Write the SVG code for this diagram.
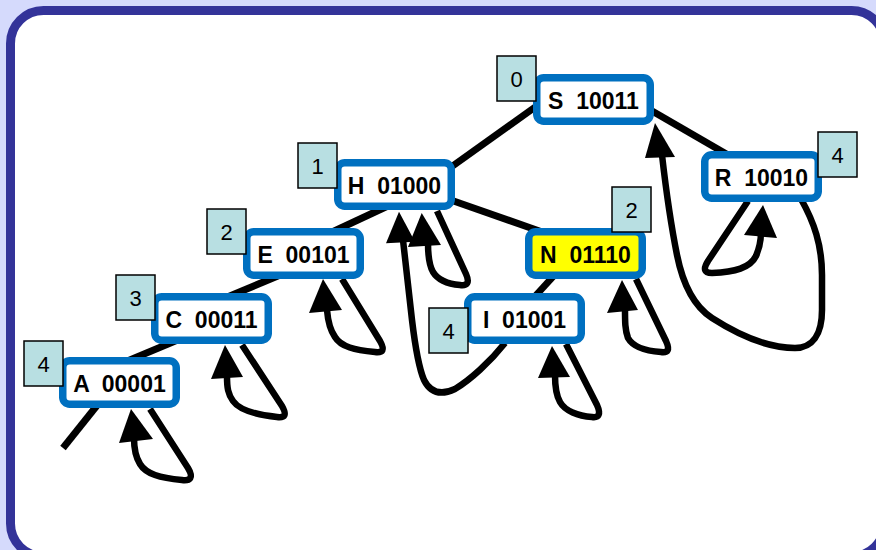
<svg xmlns="http://www.w3.org/2000/svg" width="876" height="550" viewBox="0 0 876 550">
<style>
.box{fill:#fff;stroke:#0070c0;stroke-width:7.5}
.hl{fill:#ffff00}
.lbl{font-family:"Liberation Sans",Arial,sans-serif;font-weight:bold;font-size:23px;fill:#000;text-anchor:middle;white-space:pre}
.num{fill:#b8dfe2;stroke:#000;stroke-width:1.5}
.numt{font-family:"Liberation Sans",Arial,sans-serif;font-size:22px;fill:#000;text-anchor:middle}
.edge{stroke:#000;stroke-width:7;fill:none}
.loop{stroke:#000;stroke-width:6.5;fill:none;stroke-linejoin:round}
.ah{fill:#000}
</style>
<rect width="876" height="550" fill="#d5dafc"/>
<rect x="10.5" y="10.5" width="874" height="546" rx="33" fill="#fff" stroke="#333399" stroke-width="9"/>
<g id="connectors">
<line class="edge" x1="545" y1="100" x2="440" y2="175"/>
<line class="edge" x1="640" y1="104" x2="735" y2="159"/>
<line class="edge" x1="390" y1="205" x2="330" y2="233"/>
<line class="edge" x1="445" y1="198" x2="545" y2="233"/>
<line class="edge" x1="285" y1="273" x2="225" y2="298"/>
<line class="edge" x1="180" y1="339" x2="125" y2="362"/>
<line class="edge" x1="103" y1="398" x2="63" y2="448"/>
<line class="edge" x1="560" y1="269" x2="528" y2="304"/>
<path class="loop" d="M150,409 L188,468 C194,478 190,481 182,480 C160,478 146,474 140,464 C135,456 134,448 134,438"/>
<polygon class="ah" points="131,409 119,443 153,439"/>
<path class="loop" d="M242,345 L282,406 C287,415 285,418 277,417 C258,415 240,411 233,401 C228,394 227,388 227,376"/>
<polygon class="ah" points="225,345 211,379 243,377"/>
<path class="loop" d="M342,279 L380,341 C385,350 383,353 375,352 C355,350 341,347 335,337 C330,330 328,322 327,310"/>
<polygon class="ah" points="323,279 309,313 342,310"/>
<path class="loop" d="M437,211 L466,274 C470,283 467,286 460,285 C448,284 438,280 433,272 C429,265 428,257 428,243"/>
<polygon class="ah" points="421.7,213 408,247 441,245"/>
<path class="loop" d="M566,344 L597,405 C601,414 599,418 592,417 C578,416 565,411 560,402 C556,395 555,388 555,375"/>
<polygon class="ah" points="552,346 538,378 570,377"/>
<path class="loop" d="M636,279 L666,341 C670,350 668,353 661,352 C647,351 633,347 628,338 C625,330 625,322 625,308"/>
<polygon class="ah" points="622,280 607,313 638,310"/>
<path class="loop" d="M748,201 L708,261 C703,269 704,273 712,273 C735,272 750,268 756,256 C759,249 761,243 761,232"/>
<polygon class="ah" points="763,205 744,235 777,238"/>
<path class="loop" d="M801,199 C814,222 822,245 822,275 L822,310 C822,335 812,348 795,348 C768,348 740,336 712,318 C692,305 682,280 677,255 C671,225 666,190 662,155"/>
<polygon class="ah" points="655,123 645,158 675,157"/>
<path class="loop" d="M505,343 C490,362 470,380 455,389 C440,396 430,392 424,380 C418,366 415,345 412,320 L403,240"/>
<polygon class="ah" points="399,211.7 386,243.3 415,241.7"/>
</g>
<g id="node-S">
<rect class="box" x="536.75" y="77.75" width="113.5" height="43.5" rx="7"/>
<text class="lbl" x="593.5" y="109">S  10011</text>
<rect class="num" x="497" y="56" width="39" height="45"/>
<text class="numt" x="516.5" y="86.5">0</text>
</g>
<g id="node-R">
<rect class="box" x="704.75" y="154.75" width="113.5" height="43.5" rx="7"/>
<text class="lbl" x="761.5" y="186">R  10010</text>
<rect class="num" x="818" y="132" width="39" height="45"/>
<text class="numt" x="837.5" y="162.5">4</text>
</g>
<g id="node-H">
<rect class="box" x="337.75" y="162.75" width="113.5" height="43.5" rx="7"/>
<text class="lbl" x="394.5" y="194">H  01000</text>
<rect class="num" x="298" y="143" width="39" height="45"/>
<text class="numt" x="317.5" y="173.5">1</text>
</g>
<g id="node-N">
<rect class="box hl" x="528.75" y="231.75" width="113.5" height="43.5" rx="7"/>
<text class="lbl" x="585.5" y="263">N  01110</text>
<rect class="num" x="612" y="187" width="39" height="45"/>
<text class="numt" x="631.5" y="217.5">2</text>
</g>
<g id="node-E">
<rect class="box" x="246.75" y="231.75" width="113.5" height="43.5" rx="7"/>
<text class="lbl" x="303.5" y="263">E  00101</text>
<rect class="num" x="207" y="209" width="39" height="45"/>
<text class="numt" x="226.5" y="239.5">2</text>
</g>
<g id="node-I">
<rect class="box" x="467.75" y="296.75" width="113.5" height="43.5" rx="7"/>
<text class="lbl" x="524.5" y="328">I  01001</text>
<rect class="num" x="429" y="308" width="39" height="45"/>
<text class="numt" x="448.5" y="338.5">4</text>
</g>
<g id="node-C">
<rect class="box" x="154.75" y="296.75" width="113.5" height="43.5" rx="7"/>
<text class="lbl" x="211.5" y="328">C  00011</text>
<rect class="num" x="116" y="275" width="39" height="45"/>
<text class="numt" x="135.5" y="305.5">3</text>
</g>
<g id="node-A">
<rect class="box" x="62.75" y="360.75" width="113.5" height="43.5" rx="7"/>
<text class="lbl" x="119.5" y="392">A  00001</text>
<rect class="num" x="24" y="341" width="39" height="45"/>
<text class="numt" x="43.5" y="371.5">4</text>
</g>
</svg>
